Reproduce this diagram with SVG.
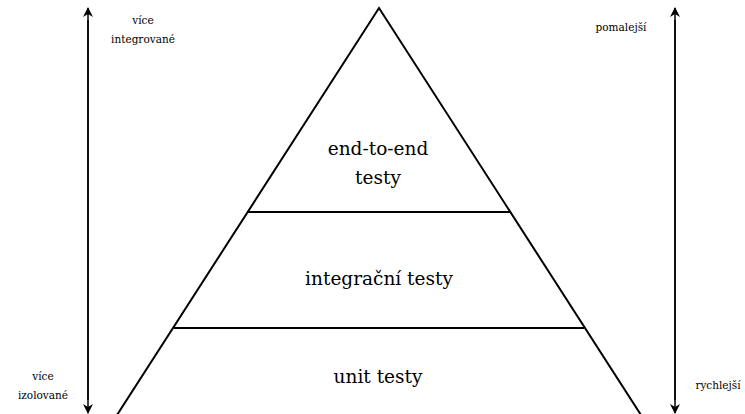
<svg xmlns="http://www.w3.org/2000/svg" width="745" height="414" viewBox="0 0 745 414">
<defs>
<marker id="ah" viewBox="0 0 10 10" refX="9" refY="5" markerWidth="10" markerHeight="10" markerUnits="userSpaceOnUse" orient="auto">
<path d="M0,0 L10,5 L0,10 L3,5 Z" fill="#000"/>
</marker>
<style>
text{font-family:'DejaVu Serif',serif;fill:#000;text-anchor:middle}
.big{font-size:18.5px}
.sm{font-size:10.5px}
.ln{stroke:#000;stroke-width:2;fill:none}
.ax{stroke:#000;stroke-width:1.5;fill:none}
</style>
</defs>
<rect width="745" height="414" fill="#fff"/>
<g id="pyramid">
<path class="ln" d="M117,415 L379,8 L641,415"/>
</g>
<g id="layer-e2e">
<text class="big" x="378" y="155">end-to-end</text>
<text class="big" x="378" y="184">testy</text>
</g>
<g id="layer-integration">
<line class="ln" x1="248" y1="212" x2="510" y2="212"/>
<text class="big" x="379" y="285">integrační testy</text>
</g>
<g id="layer-unit">
<line class="ln" x1="174" y1="328" x2="584" y2="328"/>
<text class="big" x="378" y="383">unit testy</text>
</g>
<g id="connectors">
<line class="ax" x1="88" y1="400" x2="88" y2="8" marker-end="url(#ah)"/>
<line class="ax" x1="88" y1="20" x2="88" y2="413" marker-end="url(#ah)"/>
<line class="ax" x1="675" y1="400" x2="675" y2="8" marker-end="url(#ah)"/>
<line class="ax" x1="675" y1="20" x2="675" y2="413" marker-end="url(#ah)"/>
</g>
<g id="labels">
<text class="sm" x="143" y="24">více</text>
<text class="sm" x="143" y="43">integrované</text>
<text class="sm" x="621" y="31">pomalejší</text>
<text class="sm" x="43" y="380">více</text>
<text class="sm" x="43" y="399">izolované</text>
<text class="sm" x="718" y="389">rychlejší</text>
</g>
</svg>
